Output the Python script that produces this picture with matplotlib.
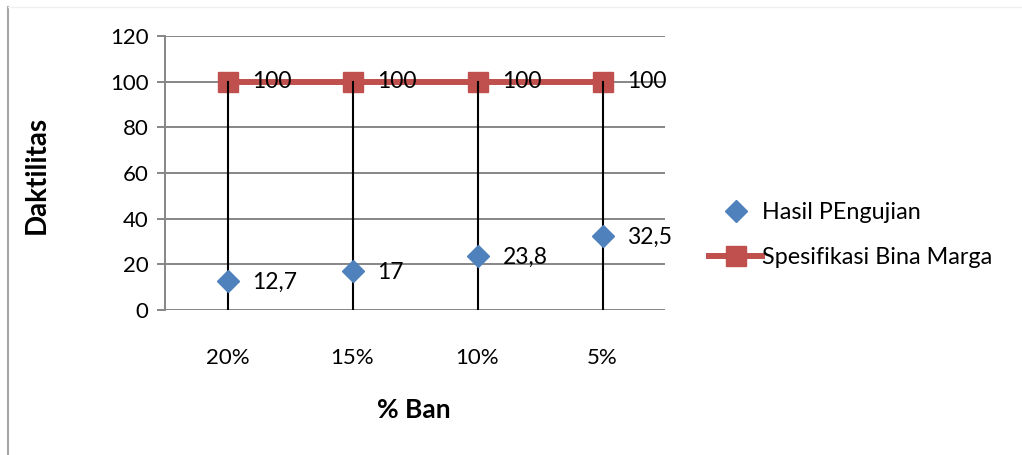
import numpy as np
import matplotlib
matplotlib.use("Agg")
from matplotlib import pyplot as plt

# data
kategori = ["20%", "15%", "10%", "5%"]
hasil_pengujian = [12.7, 17, 23.8, 32.5]
spesifikasi = [100, 100, 100, 100]
label_hasil = ["12,7", "17", "23,8", "32,5"]
label_spek = ["100", "100", "100", "100"]

plt.rcParams["font.family"] = ["Lato", "DejaVu Sans"]
FS = 16
FS_LBL = 16.5
GRID = "#868686"
BLUE = "#4F81BD"
RED = "#C0504D"

fig = plt.figure(figsize=(10.22, 4.55), dpi=100)
ax = fig.add_axes([165 / 1022, 1 - 310 / 455, 500 / 1022, 274 / 455])

x = np.arange(len(kategori))

# garis spesifikasi
ax.plot(x, spesifikasi, color=RED, lw=4.3, marker="s", ms=14, mfc=RED,
        mec=RED, zorder=3, label="Spesifikasi Bina Marga", clip_on=False)
# garis vertikal dari 100 ke 0
for xi, yi in zip(x, spesifikasi):
    ax.plot([xi, xi], [0, yi], color="black", lw=1.5, zorder=4)
ax.plot(x, hasil_pengujian, ls="none", marker="D", ms=11, color=BLUE,
        zorder=5, label="Hasil PEngujian")

for xi, yi, t in zip(x, hasil_pengujian, label_hasil):
    ax.annotate(t, (xi, yi), xytext=(18, -1), textcoords="offset points",
                va="center", ha="left", fontsize=FS_LBL, zorder=6)
for xi, yi, t in zip(x, spesifikasi, label_spek):
    ax.annotate(t, (xi, yi), xytext=(18, 0), textcoords="offset points",
                va="center", ha="left", fontsize=FS_LBL, zorder=6,
                annotation_clip=False)

ax.set_xlim(-0.5, 3.5)
ax.set_ylim(0, 120)
ax.set_yticks(np.arange(0, 121, 20))
ax.set_xticks(x)
ax.set_xticklabels(kategori)
ax.tick_params(axis="y", length=6, width=1.4, color=GRID, labelsize=FS, pad=6)
ax.tick_params(axis="x", length=0, labelsize=FS, pad=27)

ax.grid(axis="y", color=GRID, lw=1.4)
ax.set_axisbelow(True)
for s in ["top", "right", "bottom"]:
    ax.spines[s].set_visible(False)
ax.spines["left"].set_color(GRID)
ax.spines["left"].set_linewidth(1.4)

# judul sumbu
fig.text(37 / 1022, 1 - 175 / 455, "Daktilitas", rotation=90, fontsize=20,
         fontweight="bold", ha="center", va="center")
fig.text(414 / 1022, 1 - 410 / 455, "% Ban", fontsize=19,
         fontweight="bold", ha="center", va="center")

handles, labels = ax.get_legend_handles_labels()
leg = fig.legend(handles[::-1], labels[::-1], loc="center left",
                 bbox_to_anchor=(697 / 1022, 1 - 235 / 455), frameon=False,
                 fontsize=16.8, handlelength=2.3, handletextpad=0.0,
                 labelspacing=1.05, borderpad=0)

# bingkai tipis di tepi gambar
fig.add_artist(plt.Line2D([8 / 1022, 8 / 1022], [0, 1 - 7 / 455],
                          color="#A6A6A6", lw=1.5))
fig.add_artist(plt.Line2D([8 / 1022, 1], [1 - 7 / 455, 1 - 7 / 455],
                          color="#F0F0F0", lw=1))

fig.savefig("out.png", dpi=100)
